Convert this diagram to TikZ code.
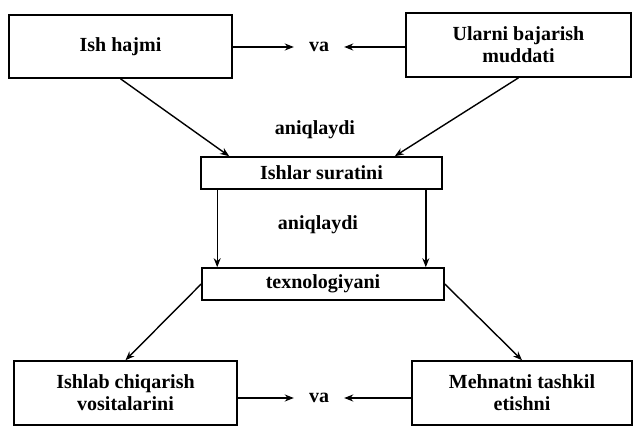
\documentclass[tikz,border=0pt]{standalone}
\usepackage{fontspec}
\setmainfont{Liberation Serif}
\usetikzlibrary{arrows.meta}
\begin{document}
\begin{tikzpicture}[x=1pt,y=-1pt,
  every node/.style={font=\fontsize{20}{22}\selectfont\bfseries},
  box/.style={draw,line width=1.6pt,inner sep=0pt,align=center},
  lbl/.style={inner sep=0pt},
  vanode/.style={inner xsep=15pt,inner ysep=0pt},
  arr/.style={line width=1.4pt,-{Stealth[length=9pt,width=7pt]}}]
\useasboundingbox (0,0) rectangle (634,427);
% boxes
\node[box,minimum width=223pt,minimum height=63pt] (tl) at (120.5,46.5) {Ish hajmi};
\node[box,minimum width=225pt,minimum height=64pt] (tr) at (518.5,45) {Ularni bajarish\\muddati};
\node[box,minimum width=241pt,minimum height=32pt] (is) at (321.5,173) {Ishlar suratini};
\node[box,minimum width=242pt,minimum height=32pt] (tx) at (323,284) {texnologiyani};
\node[box,minimum width=223pt,minimum height=64pt] (bl) at (125.5,393) {Ishlab chiqarish\\vositalarini};
\node[box,minimum width=220pt,minimum height=64pt] (br) at (522,393) {Mehnatni tashkil\\etishni};
% labels
\node[vanode] (va1) at (319,47) {va};
\node[vanode] (va2) at (319,398) {va};
\node[lbl] (an1) at (315,130) {aniqlaydi};
\node[lbl] (an2) at (318,225) {aniqlaydi};
% connectors
\draw[arr] (tl.east |- va1) -- (va1.west);
\draw[arr] (tr.west |- va1) -- (va1.east);
\draw[arr] (bl.east |- va2) -- (va2.west);
\draw[arr] (br.west |- va2) -- (va2.east);
\draw[arr] (tl.south) -- ([xshift=29pt]is.north west);
\draw[arr] (tr.south) -- ([xshift=-48pt]is.north east);
\draw[arr] ([xshift=17pt]is.south west) -- ([xshift=17pt]is.south west |- tx.north);
\draw[arr] ([xshift=-17pt]is.south east) -- ([xshift=-17pt]is.south east |- tx.north);
\draw[arr] (tx.west) -- (bl.north);
\draw[arr] (tx.east) -- (br.north);
\end{tikzpicture}
\end{document}
